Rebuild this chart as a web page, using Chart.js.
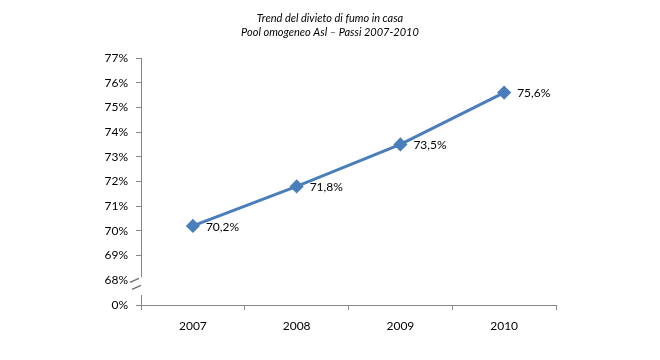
<!DOCTYPE html>
<html>
<head>
<meta charset="utf-8">
<script src="https://cdn.jsdelivr.net/npm/chart.js@4/dist/chart.umd.min.js"></script>
<style>
  html, body { margin: 0; padding: 0; background: #fff; }
  #wrap { width: 660px; height: 360px; }
</style>
</head>
<body>
<div id="wrap"><canvas id="chart" width="660" height="360"></canvas></div>
<script>
// Chart data
const years = ["2007", "2008", "2009", "2010"]
const divieto = [70.2, 71.8, 73.5, 75.6]
const yTicks = [67, 68, 69, 70, 71, 72, 73, 74, 75, 76, 77]
// the lowest tick stands for the broken part of the axis (0%)
const breakValue = 67
const titleLines = ["Trend del divieto di fumo in casa", "Pool omogeneo Asl \u2013 Passi 2007-2010"]

const axisColor = "#868686"
const lineColor = "#4a7ebb"
const fontFamily = "Lato, 'Open Sans', sans-serif"

const fmt = (v) => v.toFixed(1).replace(".", ",") + "%"

// Title, data labels and the axis break
const extras = {
  id: "extras",
  afterDraw(chart) {
    const ctx = chart.ctx
    const y = chart.scales.y
    const area = chart.chartArea
    ctx.save()

    // title
    ctx.fillStyle = "#000"
    ctx.font = "italic 11px " + fontFamily
    ctx.textAlign = "center"
    ctx.textBaseline = "middle"
    ctx.fillText(titleLines[0], chart.width / 2, 18)
    ctx.fillText(titleLines[1], chart.width / 2, 32)

    // axis break
    const y68 = y.getPixelForValue(68)
    ctx.fillStyle = "#fff"
    ctx.fillRect(area.left - 12, y68 - 3, 14, 18)
    ctx.strokeStyle = "#6f6f6f"
    ctx.lineWidth = 1.3
    ctx.beginPath()
    ctx.moveTo(area.left - 11, y68 + 2)
    ctx.lineTo(area.left - 2, y68 - 2)
    ctx.moveTo(area.left - 9, y68 + 9)
    ctx.lineTo(area.left, y68 + 5)
    ctx.stroke()
    ctx.strokeStyle = axisColor
    ctx.lineWidth = 1
    ctx.beginPath()
    ctx.moveTo(area.left + 0.5, y68 + 15)
    ctx.lineTo(area.left + 0.5, area.bottom)
    ctx.stroke()

    // data labels
    const meta = chart.getDatasetMeta(0)
    ctx.fillStyle = "#000"
    ctx.font = "12px " + fontFamily
    ctx.textAlign = "left"
    ctx.textBaseline = "middle"
    meta.data.forEach((pt, i) => {
      ctx.fillText(fmt(divieto[i]), pt.x + 13, pt.y + 1)
    })
    ctx.restore()
  },
}

new Chart(document.getElementById("chart"), {
  type: "line",
  data: {
    labels: years,
    datasets: [
      {
        label: "Divieto di fumo in casa",
        data: divieto,
        borderColor: lineColor,
        backgroundColor: lineColor,
        borderWidth: 3,
        pointStyle: "rectRot",
        pointRadius: 5,
        pointHoverRadius: 5,
        tension: 0,
      },
    ],
  },
  options: {
    responsive: false,
    animation: false,
    layout: { padding: { left: 0, right: 104, top: 58, bottom: 0 } },
    plugins: {
      legend: { display: false },
      title: { display: false },
      tooltip: { enabled: false },
    },
    scales: {
      x: {
        offset: true,
        grid: {
          offset: true,
          drawOnChartArea: false,
          drawTicks: true,
          tickLength: 5,
          color: axisColor,
        },
        border: { color: axisColor },
        ticks: { color: "#000", font: { family: fontFamily, size: 12 }, padding: 9 },
        afterFit: (scale) => { scale.height = 55 },
      },
      y: {
        min: 67,
        max: 77,
        afterBuildTicks: (scale) => {
          scale.ticks = yTicks.map((v) => ({ value: v }))
        },
        grid: {
          drawOnChartArea: false,
          drawTicks: true,
          tickLength: 5,
          color: axisColor,
        },
        border: { color: axisColor },
        ticks: {
          color: "#000",
          font: { family: fontFamily, size: 12 },
          padding: 8,
          callback: (v) => (v === breakValue ? "0%" : v + "%"),
        },
        afterFit: (scale) => { scale.width = 141 },
      },
    },
  },
  plugins: [extras],
})
</script>
</body>
</html>
